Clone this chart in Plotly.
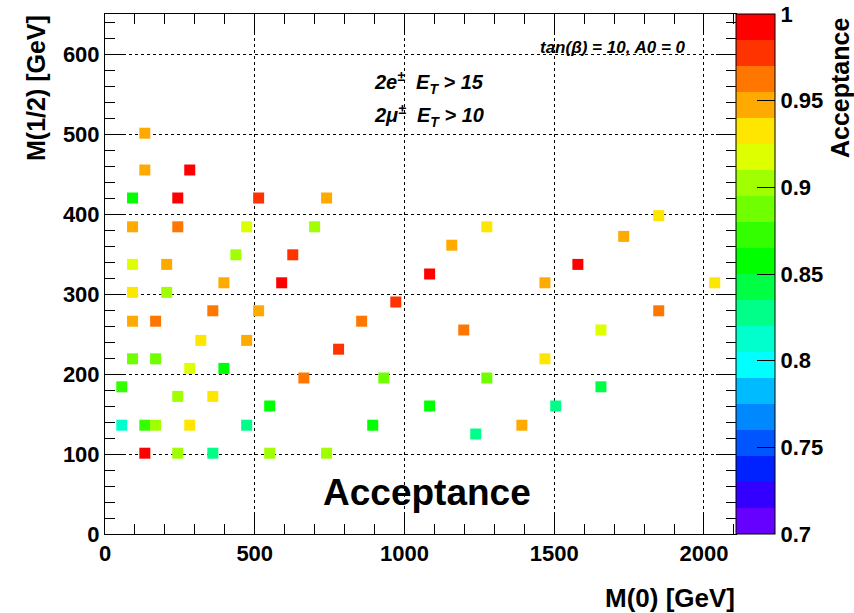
import plotly.graph_objects as go

# Data (M0 [GeV], M1/2 [GeV], acceptance)
m0 = [133, 133, 283, 92, 243, 513, 740, 92, 243, 473, 700, 437, 627, 92, 206, 397, 590, 92, 206,
      971, 360, 513, 92, 169, 857, 320, 473, 780, 92, 169, 283, 397, 664, 931, 56, 243, 360, 550,
      56, 133, 169, 283, 473, 894, 133, 243, 360, 550, 740,
      1275, 1158, 1084, 1469, 1849, 1732, 1579, 2036, 1198, 1656, 1849, 1469, 1275, 1084, 1505,
      1656, 1238, 1392]
m12 = [501, 455, 455, 420, 420, 420, 420, 384, 384, 384, 384, 349, 349, 337, 337, 314, 314, 302, 302,
       290, 279, 279, 266, 266, 266, 242, 242, 231, 219, 219, 207, 207, 195, 195, 184, 172, 172, 160,
       136, 136, 136, 136, 136, 136, 101, 101, 101, 101, 101,
       384, 361, 325, 314, 398, 372, 337, 314, 255, 255, 279, 219, 195, 160, 160,
       184, 125, 136]
acc = [0.948, 0.948, 0.990, 0.858, 0.990, 0.975, 0.948, 0.948, 0.960, 0.918, 0.903, 0.903, 0.975, 0.918, 0.948,
       0.948, 0.990, 0.933, 0.903,
       0.975, 0.960, 0.948, 0.948, 0.960, 0.960, 0.933, 0.948, 0.975, 0.888, 0.888, 0.918, 0.858, 0.960, 0.888,
       0.873, 0.903, 0.933, 0.858,
       0.813, 0.873, 0.903, 0.933, 0.828, 0.858, 0.990, 0.903, 0.828, 0.903, 0.903,
       0.933, 0.948, 0.990, 0.948, 0.933, 0.948, 0.990, 0.933, 0.960, 0.918, 0.960, 0.933, 0.888, 0.858, 0.828,
       0.843, 0.828, 0.948]

x_ticks = [0, 500, 1000, 1500, 2000]
y_ticks = [0, 100, 200, 300, 400, 500, 600]
cb_ticks = [0.7, 0.75, 0.8, 0.85, 0.9, 0.95, 1.0]
cb_ticklabels = ["0.7", "0.75", "0.8", "0.85", "0.9", "0.95", "1"]

# ROOT-like rainbow palette with 20 levels (bottom -> top)
palette = ["#6600FF", "#3300FF", "#0022FF", "#0055FF", "#0088FF", "#00BBFF", "#00FFFF", "#00FFCC",
           "#00FF88", "#00FF44", "#00FF00", "#33FF00", "#70FF00", "#A0FF00", "#DDFF00", "#FFE600",
           "#FFAA00", "#FF7700", "#FF3300", "#FF0000"]
n = len(palette)
colorscale = []
for i, c in enumerate(palette):
    colorscale.append([i / n, c])
    colorscale.append([(i + 1) / n, c])

FONT = "Liberation Sans, Arial, Helvetica, sans-serif"

L, R, T, B = 105, 118, 14, 79
W, H = 854, 613
PW, PH = W - L - R, H - T - B

fig = go.Figure()
fig.add_trace(go.Scatter(
    x=m0, y=m12, mode="markers",
    marker=dict(symbol="square", size=11, color=acc, colorscale=colorscale, cmin=0.7, cmax=1.0,
                line=dict(width=0),
                colorbar=dict(thickness=39, len=1.0, lenmode="fraction", x=1.0, xanchor="left", xpad=0,
                              y=0, yanchor="bottom", ypad=0,
                              outlinewidth=1, outlinecolor="black",
                              tickvals=cb_ticks, ticktext=cb_ticklabels,
                              ticks="inside", ticklen=18, tickcolor="black",
                              tickfont=dict(family=FONT, size=22, color="black", weight="bold"))),
    showlegend=False, hoverinfo="skip"))

axis_common = dict(showline=True, linecolor="black", linewidth=1, mirror="ticks",
                   ticks="inside", ticklen=20, tickcolor="black",
                   showgrid=True, gridcolor="black", griddash="dot", gridwidth=1,
                   zeroline=False,
                   tickfont=dict(family=FONT, size=22, color="black", weight="bold"))

fig.update_layout(
    width=W, height=H,
    margin=dict(l=L, r=R, t=T, b=B, autoexpand=False),
    plot_bgcolor="white", paper_bgcolor="white",
    xaxis=dict(range=[0, 2107], tickvals=x_ticks, ticktext=[str(v) for v in x_ticks],
               minor=dict(dtick=100, ticks="inside", ticklen=10, tickcolor="black", showgrid=False),
               **axis_common),
    yaxis=dict(range=[0, 650], tickvals=y_ticks, ticktext=[str(v) for v in y_ticks],
               minor=dict(dtick=20, ticks="inside", ticklen=10, tickcolor="black", showgrid=False),
               **axis_common),
)

annots = [
    dict(text="<b><i>tan(β) = 10, A0 = 0</i></b>", x=688, y=48, xanchor="right", yanchor="middle", size=17),
    dict(text="<b><i>2e<sup>±</sup>  E<sub>T</sub> > 15</i></b>", x=372, y=83, xanchor="left", yanchor="middle", size=20),
    dict(text="<b><i>2μ<sup>±</sup>  E<sub>T</sub> > 10</i></b>", x=372, y=116, xanchor="left", yanchor="middle", size=20),
    dict(text="<b>Acceptance</b>", x=427, y=492, xanchor="center", yanchor="middle", size=37),
    dict(text="<b>M(0) [GeV]</b>", x=737, y=598, xanchor="right", yanchor="middle", size=26),
]
for a in annots:
    fig.add_annotation(text=a["text"], xref="paper", yref="paper",
                       x=(a["x"] - L) / PW, y=(H - B - a["y"]) / PH,
                       xanchor=a["xanchor"], yanchor=a["yanchor"], showarrow=False,
                       font=dict(family=FONT, size=a["size"], color="black"))

# rotated titles
fig.add_annotation(text="<b>M(1/2) [GeV]</b>", textangle=-90, xref="paper", yref="paper",
                   x=(36 - L) / PW, y=(H - B - 13) / PH, xanchor="center", yanchor="top",
                   showarrow=False, font=dict(family=FONT, size=25, color="black"))
fig.add_annotation(text="<b>Acceptance</b>", textangle=-90, xref="paper", yref="paper",
                   x=(840 - L) / PW, y=(H - B - 16) / PH, xanchor="center", yanchor="top",
                   showarrow=False, font=dict(family=FONT, size=25, color="black"))

fig.write_html("out.html", config={"displayModeBar": False},
               post_script="document.body.style.margin='0';document.body.style.padding='0';")
